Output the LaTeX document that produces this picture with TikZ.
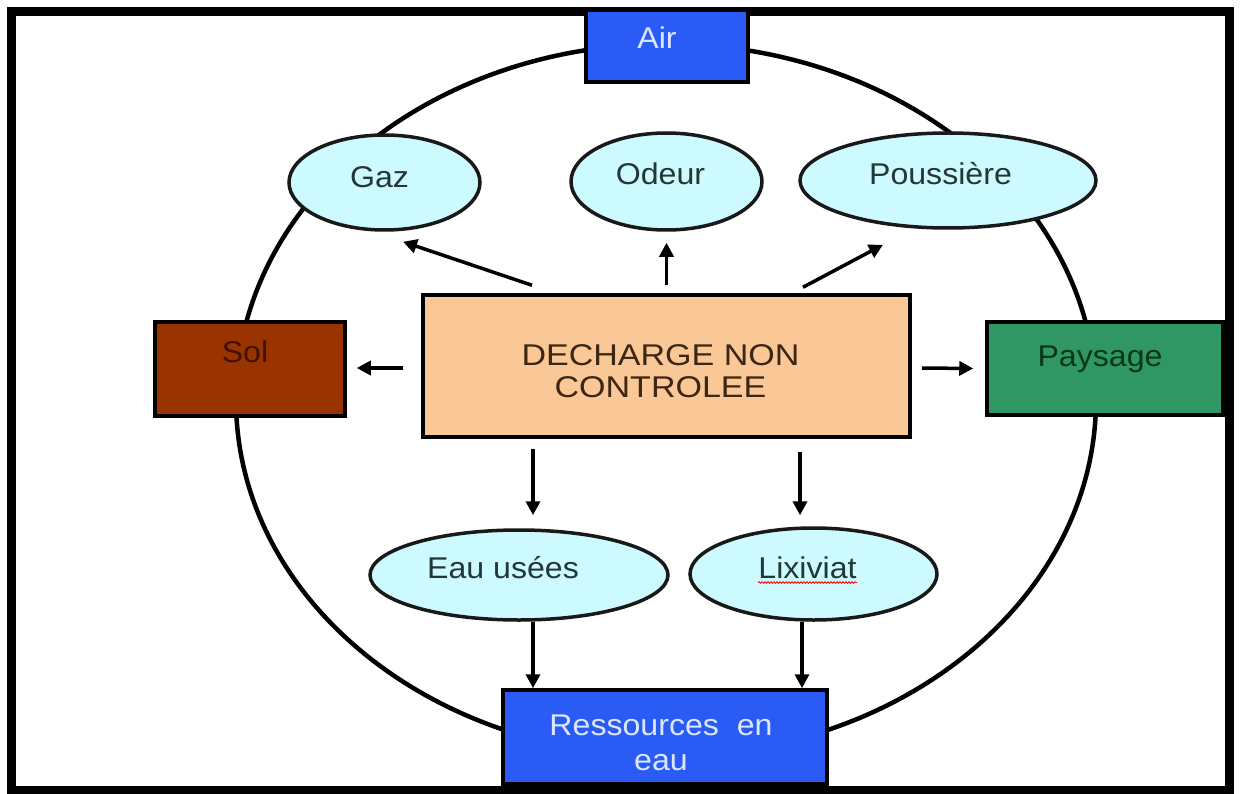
\documentclass[tikz,border=0pt]{standalone}
\usepackage{fontspec}
\setmainfont{Liberation Sans}[FakeStretch=1.07]
\usetikzlibrary{shapes.geometric, arrows.meta, calc, decorations.pathmorphing}
\definecolor{bluef}{RGB}{42,92,245}
\definecolor{cyanf}{RGB}{204,250,255}
\definecolor{peachf}{RGB}{250,200,150}
\definecolor{solf}{RGB}{153,51,0}
\definecolor{paysf}{RGB}{48,150,100}
\definecolor{bubtxt}{RGB}{35,55,55}
\definecolor{bluetxt}{RGB}{220,230,255}
\definecolor{dechtxt}{RGB}{60,38,20}
\definecolor{soltxt}{RGB}{65,18,0}
\definecolor{paystxt}{RGB}{8,55,28}
\begin{document}
\begin{tikzpicture}[x=1pt,y=-1pt,
  box/.style={draw=black, line width=3.5pt, inner sep=0pt, rectangle},
  bub/.style={draw=black!90, line width=3.5pt, ellipse, inner sep=0pt, fill=cyanf},
  lab/.style={font=\fontsize{30}{32}\selectfont, text height=21.5pt, text depth=0pt, inner sep=0pt},
  lab2/.style={font=\fontsize{30}{32}\selectfont, align=center, inner sep=0pt},
  arr/.style={line width=3.5pt, -{Triangle[length=14pt,width=14pt]}}]
\useasboundingbox (0,0) rectangle (1241,794);
\fill[white] (0,0) rectangle (1241,794);
\draw[line width=9pt] (11,12) rectangle (1229,790);
\draw[line width=4.5pt] (666,400) ellipse [x radius=430, y radius=356];

\node[box, fill=bluef, minimum width=162pt, minimum height=72pt,
  label={[lab, text=bluetxt, xshift=-10pt, yshift=8pt]center:Air}] (air) at (667,46) {};
\node[bub, minimum width=191pt, minimum height=95pt,
  label={[lab, text=bubtxt, xshift=-5pt, yshift=6pt]center:Gaz}] (gaz) at (384.5,182.5) {};
\node[bub, minimum width=191pt, minimum height=97pt,
  label={[lab, text=bubtxt, xshift=-6pt, yshift=8pt]center:Odeur}] (odeur) at (666.5,181.5) {};
\node[bub, minimum width=296pt, minimum height=95pt,
  label={[lab, text=bubtxt, xshift=-7.5pt, yshift=6.5pt]center:Poussière}] (pous) at (948,180.5) {};
\node[box, fill=peachf, minimum width=487pt, minimum height=142pt,
  label={[lab2, text=dechtxt, xshift=-6pt, yshift=-5.5pt]center:{\scalebox{1.06}[1]{DECHARGE NON}\\\scalebox{1.06}[1]{CONTROLEE}}}] (dech) at (666.5,366) {};
\node[box, fill=solf, minimum width=190pt, minimum height=94pt,
  label={[lab, text=soltxt, xshift=-5pt, yshift=17.5pt]center:Sol}] (sol) at (250,369) {};
\node[box, fill=paysf, minimum width=236pt, minimum height=93pt,
  label={[lab, text=paystxt, xshift=-5pt, yshift=12.5pt]center:Paysage}] (pays) at (1105,368.5) {};
\node[bub, minimum width=298pt, minimum height=90pt,
  label={[lab, text=bubtxt, xshift=-16pt, yshift=7.5pt]center:Eau usées}] (eau) at (519,575) {};
\node[bub, minimum width=247pt, minimum height=92pt,
  label={[lab, text=bubtxt, xshift=-6pt, yshift=6.5pt]center:Lixiviat}] (lix) at (813.5,574) {};
\node[box, fill=bluef, minimum width=324pt, minimum height=94pt,
  label={[lab2, text=bluetxt, xshift=-4pt, yshift=-5.5pt, font=\fontsize{30}{35}\selectfont]center:{Ressources\ \ en\\eau}}] (res) at (665,737) {};

\draw[red, line width=0.8pt, decorate, decoration={snake, amplitude=0.8pt, segment length=3pt}]
  ($(lix.center)+(-55.5,8.5)$) -- ($(lix.center)+(43.5,8.5)$);

\draw[arr] ($(dech.north)+(-134.5,-8)$) -- ($(gaz.south)+(18.5,10)$);
\draw[arr] ($(dech.north)+(0,-8)$) -- ($(odeur.south)+(0,11)$);
\draw[arr] ($(dech.north)+(136.5,-6)$) -- ($(pous.south)+(-65,15)$);
\draw[arr] ($(dech.west)+(-18,2)$) -- ($(sol.east)+(10,-1)$);
\draw[arr] ($(dech.east)+(10,2)$) -- ($(pays.west)+(-12,0)$);
\draw[arr] ($(dech.south)+(-133.5,10)$) -- ($(eau.north)+(14,-13)$);
\draw[arr] ($(dech.south)+(133.5,13)$) -- ($(lix.north)+(-13.5,-11)$);
\draw[arr] ($(eau.south)+(14,0)$) -- ($(res.north)+(-132,0)$);
\draw[arr] ($(lix.south)+(-11.5,0)$) -- ($(res.north)+(137,0)$);
\end{tikzpicture}
\end{document}
